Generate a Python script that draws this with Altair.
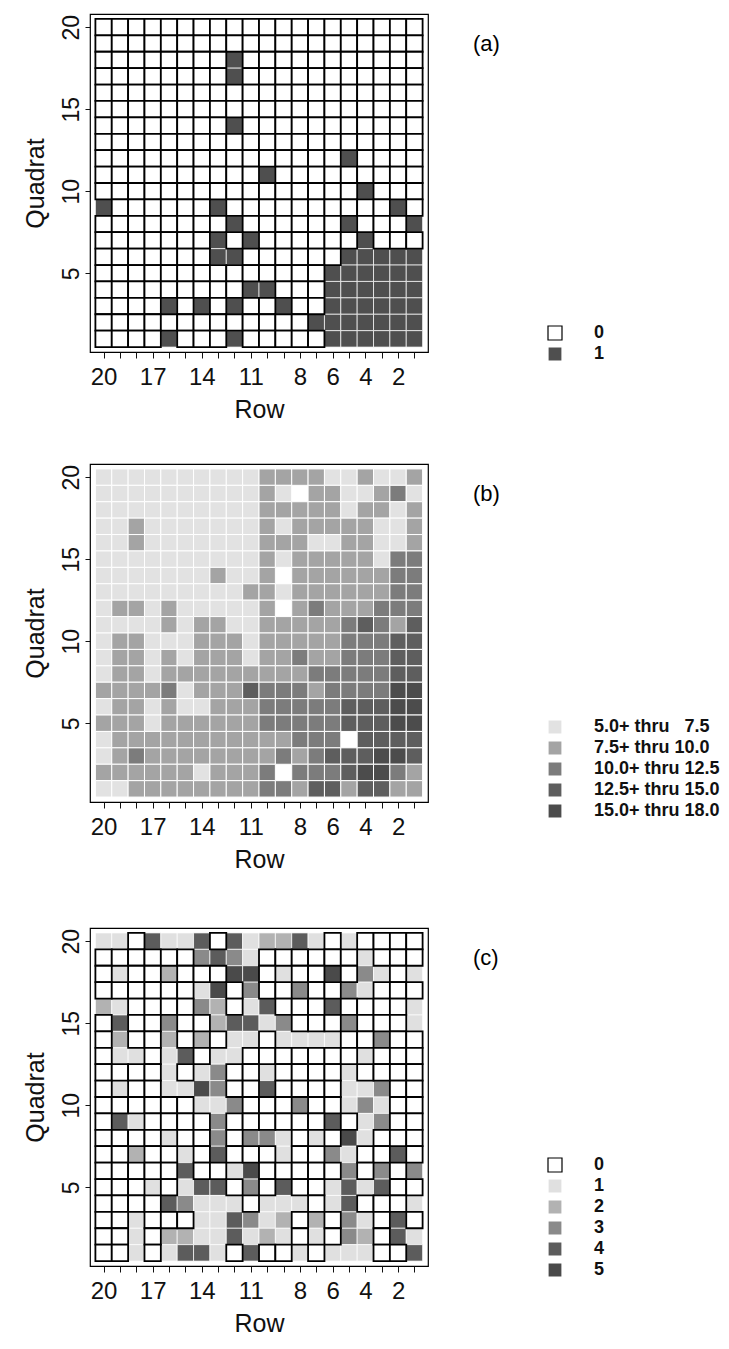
import altair as alt
import pandas as pd

# ---- axes ----
ROWS = list(range(20, 0, -1))          # columns, left -> right
QUADRATS = list(range(20, 0, -1))      # grid rows, top -> bottom
ROW_TICK_LABELS = [20, 17, 14, 11, 8, 6, 4, 2]
QUADRAT_TICKS = [5, 10, 15, 20]

# ---- panel (a): presence (0/1), one string per quadrat (20 at top), Row 20..1 ----
PANEL_A = [
    "00000000000000000000",
    "00000000000000000000",
    "00000000100000000000",
    "00000000100000000000",
    "00000000000000000000",
    "00000000000000000000",
    "00000000100000000000",
    "00000000000000000000",
    "00000000000000010000",
    "00000000001000000000",
    "00000000000000001000",
    "10000001000000000010",
    "00000000100000010001",
    "00000001010000001000",
    "00000001100000011111",
    "00000000000000111111",
    "00000000011000111111",
    "00001010100100111111",
    "00000000000001111111",
    "00001000100000111111",
]
A_CLASSES = ["0", "1"]
A_COLORS = ["#ffffff", "#4f4f4f"]

# ---- panel (b): class codes 1..5 (0 = blank cell) ----
PANEL_B = [
    "11111111112222112112",
    "11111111112102211231",
    "11111111112222212212",
    "11211111112122222112",
    "11211111112221122112",
    "11111111112122222133",
    "11111112112022222233",
    "11111111122122222233",
    "12212111112023222333",
    "11112122112222234324",
    "12211122212222233344",
    "12212122212232233344",
    "12212222222223333344",
    "22223122243332333355",
    "12212112223333344455",
    "22212222223333344455",
    "12222222222233304444",
    "12322222222323444554",
    "22222212223033345532",
    "11222222223324424422",
]
B_CLASSES = [
    "\u20075.0+ thru \u20077.5",
    "\u20077.5+ thru 10.0",
    "10.0+ thru 12.5",
    "12.5+ thru 15.0",
    "15.0+ thru 18.0",
]
B_COLORS = ["#e2e2e2", "#a4a4a4", "#7c7c7c", "#5e5e5e", "#4c4c4c"]

# ---- panel (c): counts 0..5 ----
PANEL_C = [
    "11041140412241010000",
    "00000034310000001000",
    "01002000550100503101",
    "00000015030030031000",
    "21000032014000400001",
    "04003002441300030001",
    "02002020110111100300",
    "01101401100000001000",
    "00001013001000010000",
    "01001153004000011300",
    "00000011300030013100",
    "04100003000000401300",
    "00001003033101051000",
    "00200104000100310040",
    "00000400150000030303",
    "00010144030400141400",
    "00004311101110140001",
    "00100011431202031040",
    "00102211412101032041",
    "00101441040010111004",
]
C_CLASSES = ["0", "1", "2", "3", "4", "5"]
C_COLORS = ["#ffffff", "#e0e0e0", "#b2b2b2", "#8a8a8a", "#5c5c5c", "#4a4a4a"]

FONT = "Liberation Sans"
W = 338
H = 338


def table(grid, labels=None):
    recs = []
    for qi, q in enumerate(QUADRATS):
        line = grid[qi]
        assert len(line) == 20
        for ri, r in enumerate(ROWS):
            code = line[ri]
            if labels is not None:
                if code == "0":
                    continue
                v = labels[int(code) - 1]
            else:
                v = code
            recs.append({"row": r, "quadrat": q, "v": v})
    return pd.DataFrame(recs)


label_expr = "indexof([%s], datum.value) >= 0 ? datum.label : ''" % ",".join(
    str(v) for v in ROW_TICK_LABELS)

x_axis = alt.Axis(values=ROWS, labelExpr=label_expr, tickSize=6, labelPadding=7,
                  labelFontSize=24, titleFontSize=25, titlePadding=8, grid=False,
                  domain=False, labelFlush=False, labelOverlap=False,
                  titleFontWeight="normal")
y_axis = alt.Axis(values=QUADRAT_TICKS, labelAngle=270, labelAlign="center",
                  labelBaseline="bottom", tickSize=5, labelPadding=2,
                  labelFontSize=23, titleFontSize=25, titlePadding=12,
                  grid=False, domain=False, labelFlush=False, labelOverlap=False,
                  titleFontWeight="normal")
x_scale = alt.Scale(domain=[0.17, 20.83], reverse=True, nice=False, zero=False)
y_scale = alt.Scale(domain=[0.2, 20.8], nice=False, zero=False)


def panel(df, classes, colors, strokes, legend_y, tag, bordered):
    leg = alt.Legend(title=None, orient="none", legendX=456, legendY=legend_y)
    base = alt.Chart(df).transform_calculate(
        x0="datum.row + 0.5", x1="datum.row - 0.5",
        y0="datum.quadrat - 0.5", y1="datum.quadrat + 0.5",
    ).encode(
        x=alt.X("x0:Q", scale=x_scale, axis=x_axis, title="Row"),
        x2="x1:Q",
        y=alt.Y("y0:Q", scale=y_scale, axis=y_axis, title="Quadrat"),
        y2="y1:Q",
        fill=alt.Fill("v:N", scale=alt.Scale(domain=classes, range=colors), legend=leg),
        stroke=alt.Stroke("v:N", scale=alt.Scale(domain=classes, range=strokes), legend=leg),
    )
    layers = []
    if bordered:
        layers.append(base.transform_filter("datum.v != '0'").mark_rect(strokeWidth=0.7))
        layers.append(base.transform_filter("datum.v == '0'").mark_rect(strokeWidth=1.8))
    else:
        layers.append(base.mark_rect(strokeWidth=1.0))
    label = alt.Chart(pd.DataFrame({"t": [tag]})).mark_text(
        font=FONT, fontSize=22, align="left", baseline="middle", color="black"
    ).encode(text="t:N", x=alt.value(383), y=alt.value(30))
    layers.append(label)
    return alt.layer(*layers).properties(width=W, height=H)


pa = panel(table(PANEL_A), A_CLASSES, A_COLORS, ["#000000", "#ffffff"], 310, "(a)", True)
pb = panel(table(PANEL_B, B_CLASSES), B_CLASSES, B_COLORS, ["#ffffff"] * 5, 254, "(b)", False)
pc = panel(table(PANEL_C), C_CLASSES, C_COLORS, ["#000000"] + ["#ffffff"] * 5, 228, "(c)", True)

top = alt.vconcat(pa, pb, spacing=40).resolve_scale(
    fill="independent", stroke="independent"
).resolve_legend(fill="independent", stroke="independent")

chart = alt.vconcat(
    top,
    pc,
    spacing=54,
).resolve_scale(
    fill="independent", stroke="independent"
).resolve_legend(
    fill="independent", stroke="independent"
).properties(
    padding={"left": 14, "top": 5, "right": 0, "bottom": 0}
).configure_view(
    stroke="#000000", strokeWidth=1.2
).configure_axis(
    labelFont=FONT, titleFont=FONT, labelColor="#111111", titleColor="#111111",
    tickColor="#111111", tickWidth=1
).configure_legend(
    padding=0, symbolType="square", symbolSize=196, labelFontSize=18,
    labelFont=FONT, labelFontWeight="bold", labelColor="#111111",
    rowPadding=1, labelOffset=30, symbolStrokeWidth=1.2, symbolOpacity=1
)

chart.save("out.html", embed_options={"renderer": "svg", "actions": False})
